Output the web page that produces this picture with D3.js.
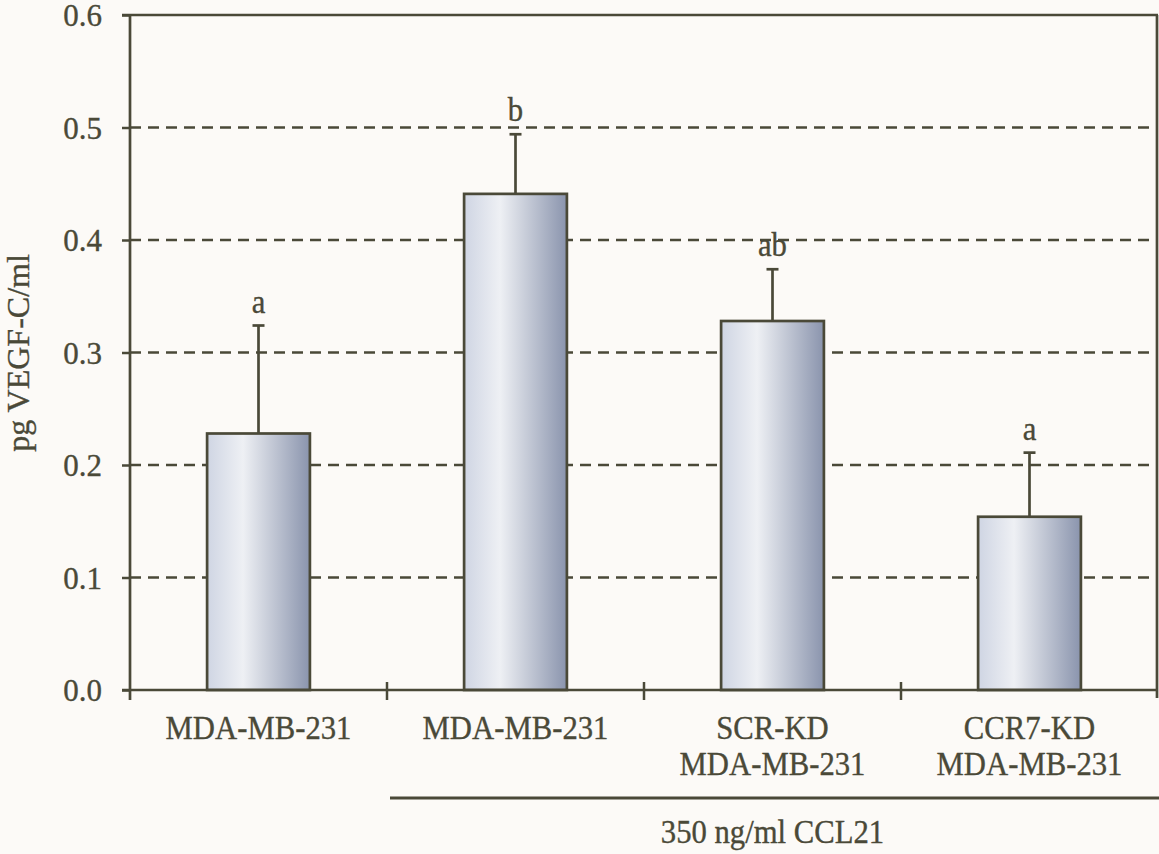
<!DOCTYPE html>
<html>
<head>
<meta charset="utf-8">
<script src="https://cdn.jsdelivr.net/npm/d3@7"></script>
<style>
  html, body { margin: 0; padding: 0; background: #fcfaf7; }
  svg { display: block; }
  text { font-family: "Liberation Serif", "Times New Roman", serif; fill: #4a4938; stroke: #4a4938; stroke-width: 0.35px; }
</style>
</head>
<body>
<svg id="chart" width="1159" height="854"></svg>
<script>
// VEGF-C secretion per cell line (mean with upper error bar)
const categories = [
  ["MDA-MB-231"],
  ["MDA-MB-231"],
  ["SCR-KD", "MDA-MB-231"],
  ["CCR7-KD", "MDA-MB-231"]
];
const means = [0.228, 0.441, 0.328, 0.154];
const errors = [0.096, 0.053, 0.046, 0.057];
const letters = ["a", "b", "ab", "a"];
const yTicks = [0.0, 0.1, 0.2, 0.3, 0.4, 0.5, 0.6];
const yTitle = "pg VEGF-C/ml";
const treatmentLabel = "350 ng/ml CCL21";

(function draw() {
  const ink = "#4a4938";
  const svg = d3.select("#chart");

  const plotLeft = 130, plotRight = 1158, plotTop = 15, plotBottom = 690;

  // squeeze a text element horizontally, keeping its height
  function condense(sel, factor) {
    sel.each(function () {
      const w = this.getComputedTextLength();
      d3.select(this).attr("textLength", w * factor).attr("lengthAdjust", "spacingAndGlyphs");
    });
  }

  const y = d3.scaleLinear().domain([0, 0.6]).range([plotBottom, plotTop]);
  const idx = d3.range(categories.length);
  // full-width category slots (used for separators and label centres)
  const xCat = d3.scaleBand().domain(idx).range([plotLeft, plotRight]).padding(0);
  // bar positions inside each slot
  const xBar = d3.scaleBand().domain(idx).range([plotLeft, plotRight]).paddingInner(0.6).paddingOuter(0.3);

  // bar shading: light on the left, steel blue-grey on the right
  const defs = svg.append("defs");
  const grad = defs.append("linearGradient").attr("id", "barFill")
    .attr("x1", "0%").attr("x2", "100%").attr("y1", "0%").attr("y2", "0%");
  grad.append("stop").attr("offset", "0%").attr("stop-color", "#cfd5e3");
  grad.append("stop").attr("offset", "35%").attr("stop-color", "#eef0f4");
  grad.append("stop").attr("offset", "100%").attr("stop-color", "#8a94ad");

  // dashed gridlines
  svg.append("g").selectAll("line")
    .data(yTicks.filter(v => v > 0 && v < 0.6))
    .join("line")
    .attr("x1", plotLeft).attr("x2", plotRight)
    .attr("y1", d => y(d)).attr("y2", d => y(d))
    .attr("stroke", ink).attr("stroke-width", 2.5)
    .attr("stroke-dasharray", "11,7");

  // frame: top and right
  svg.append("line").attr("x1", plotLeft - 8).attr("x2", plotRight).attr("y1", y(0.6)).attr("y2", y(0.6))
    .attr("stroke", ink).attr("stroke-width", 2.7);
  svg.append("line").attr("x1", plotRight - 1).attr("x2", plotRight - 1).attr("y1", y(0.6)).attr("y2", y(0) + 8)
    .attr("stroke", ink).attr("stroke-width", 2.7);

  // bars
  svg.append("g").selectAll("rect")
    .data(idx)
    .join("rect")
    .attr("x", i => xBar(i))
    .attr("width", xBar.bandwidth())
    .attr("y", i => y(means[i]))
    .attr("height", i => y(0) - y(means[i]))
    .attr("fill", "url(#barFill)")
    .attr("stroke", ink).attr("stroke-width", 2.7);

  // upper error bars
  const eb = svg.append("g").attr("stroke", ink).attr("stroke-width", 2.7);
  idx.forEach(i => {
    const cx = xBar(i) + xBar.bandwidth() / 2;
    const yEnd = y(means[i] + errors[i]);
    eb.append("line").attr("x1", cx).attr("x2", cx).attr("y1", y(means[i])).attr("y2", yEnd);
    eb.append("line").attr("x1", cx - 6).attr("x2", cx + 6).attr("y1", yEnd).attr("y2", yEnd);
  });

  // significance letters
  svg.append("g").selectAll("text")
    .data(idx)
    .join("text")
    .attr("x", i => xBar(i) + xBar.bandwidth() / 2)
    .attr("y", i => y(means[i] + errors[i]) - 13)
    .attr("text-anchor", "middle")
    .attr("font-size", 33)
    .text(i => letters[i])
    .call(condense, 0.93);

  // y axis
  const yAxis = svg.append("g")
    .attr("transform", `translate(${plotLeft},0)`)
    .call(d3.axisLeft(y).tickValues(yTicks).tickFormat(d3.format(".1f")).tickSize(8).tickPadding(20));
  yAxis.select(".domain").attr("d", `M0,${y(0.6)}V${y(0) + 10}`).attr("stroke", ink).attr("stroke-width", 2.7);
  yAxis.selectAll(".tick line").attr("stroke", ink).attr("stroke-width", 2.5);
  yAxis.selectAll(".tick text")
    .attr("font-family", "Liberation Serif, serif")
    .attr("font-size", 31)
    .attr("fill", ink)
    .attr("dy", "0.34em");

  // x axis
  const xAxis = svg.append("g")
    .attr("transform", `translate(0,${plotBottom})`)
    .call(d3.axisBottom(xCat).tickSize(0).tickFormat(""));
  xAxis.select(".domain").attr("d", `M${plotLeft - 8},0H${plotRight}`).attr("stroke", ink).attr("stroke-width", 2.7);
  xAxis.selectAll(".tick").remove();

  // slot separators crossing the x axis
  svg.append("g").selectAll("line")
    .data(idx.slice(1))
    .join("line")
    .attr("x1", i => xCat(i)).attr("x2", i => xCat(i))
    .attr("y1", plotBottom - 8).attr("y2", plotBottom + 10)
    .attr("stroke", ink).attr("stroke-width", 2.5);

  // category labels
  const catLabels = svg.append("g").selectAll("text")
    .data(idx)
    .join("text")
    .attr("text-anchor", "middle")
    .attr("font-size", 33);
  catLabels.each(function (i) {
    const t = d3.select(this);
    categories[i].forEach((line, k) => {
      t.append("tspan")
        .attr("x", xCat(i) + xCat.bandwidth() / 2)
        .attr("y", 739 + k * 36)
        .text(line)
        .call(condense, 0.93);
    });
  });

  // treatment bracket and label
  svg.append("line")
    .attr("x1", xCat(1) + 3).attr("x2", plotRight + 2)
    .attr("y1", 798).attr("y2", 798)
    .attr("stroke", ink).attr("stroke-width", 2.8);
  svg.append("text")
    .attr("x", (xCat(1) + plotRight) / 2)
    .attr("y", 843)
    .attr("text-anchor", "middle")
    .attr("font-size", 33)
    .text(treatmentLabel)
    .call(condense, 0.93);

  // y axis title
  svg.append("text")
    .attr("transform", `translate(29,353) rotate(-90)`)
    .attr("text-anchor", "middle")
    .attr("font-size", 32)
    .text(yTitle)
    .call(condense, 1.0);
})();
</script>
</body>
</html>
